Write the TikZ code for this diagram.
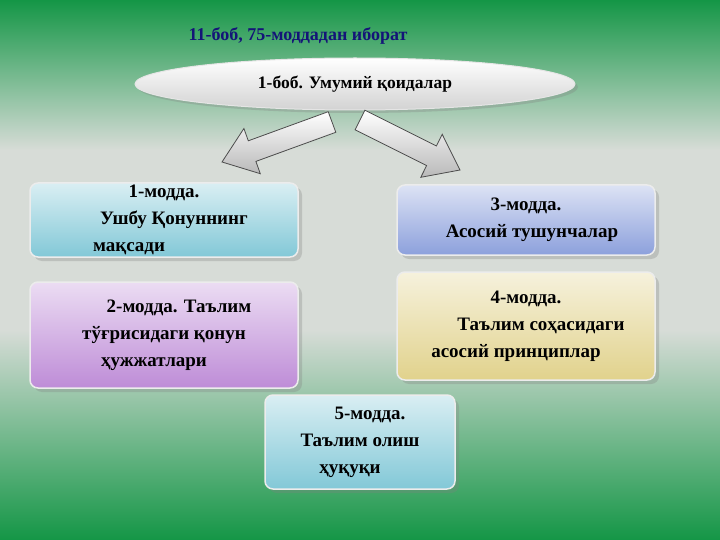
\documentclass[tikz,border=0pt]{standalone}
\usepackage{fontspec}
\setmainfont{Liberation Serif}
\usetikzlibrary{shapes,positioning,shadows}
\definecolor{bggreen}{RGB}{20,150,70}
\definecolor{bggray}{RGB}{215,220,215}
\definecolor{titleblue}{RGB}{20,20,120}
\definecolor{cyanbox}{RGB}{130,200,215}
\definecolor{bluebox}{RGB}{140,160,220}
\definecolor{lilacbox}{RGB}{190,140,215}
\definecolor{sandbox}{RGB}{225,210,140}
\begin{document}
\begin{tikzpicture}[x=1pt,y=-1pt,
    card/.style={rectangle, rounded corners=8pt, draw=white!85!gray, line width=1.5pt,
                 font=\bfseries\fontsize{19}{27}\selectfont, align=center, inner sep=0pt,
                 drop shadow={shadow xshift=4pt, shadow yshift=-4pt, opacity=0.3}},
    pointer/.style={draw=gray!60!black, line width=0.8pt, top color=white, bottom color=gray!55}
  ]
    \useasboundingbox (0,0) rectangle (720,540);
    \shade[top color=bggreen, bottom color=bggray] (0,0) rectangle (720,150);
    \fill[bggray] (0,150) rectangle (720,330);
    \shade[top color=bggray, bottom color=bggreen] (0,330) rectangle (720,540);

    \node[font=\bfseries\fontsize{18}{20}\selectfont, text=titleblue] (title) at (298,36) {11-боб, 75-моддадан иборат};
    \node[ellipse, draw=white!80!gray, line width=1pt, top color=white, bottom color=gray!35,
          minimum width=440pt, minimum height=52pt, font=\bfseries\fontsize{17.5}{20}\selectfont,
          drop shadow={shadow xshift=3pt, shadow yshift=-3pt, opacity=0.3}] (chapter) at (355,84) {1-боб. Умумий қоидалар};

    % block arrows
    \path[pointer] (335.8,132.3) -- (255.9,161.4) -- (260.3,173.7) -- (222,162) -- (243.9,128.5)
      -- (248.3,140.8) -- (328.2,111.7) -- cycle;
    \path[pointer] (355.1,129.8) -- (426.6,165.6) -- (420.8,177.3) -- (460,170) -- (442.2,134.3)
      -- (436.4,146.0) -- (364.9,110.2) -- cycle;

    \node[card, top color=white!70!cyanbox, bottom color=cyanbox, minimum width=268pt, minimum height=74pt] (art1) at (164,220)
      {1-модда.\\\hspace*{20pt}Ушбу Қонуннинг\\мақсади\hspace*{70pt}};
    \node[card, top color=white!70!bluebox, bottom color=bluebox, minimum width=258pt, minimum height=70pt] (art3) at (526,220)
      {3-модда.\\\hspace*{12pt}Асосий тушунчалар};
    \node[card, top color=white!70!lilacbox, bottom color=lilacbox, minimum width=268pt, minimum height=106pt] (art2) at (164,335)
      {\hspace*{30pt}2-модда. Таълим\\тўғрисидаги қонун\\ҳужжатлари\hspace*{20pt}};
    \node[card, top color=white!70!sandbox, bottom color=sandbox, minimum width=258pt, minimum height=108pt] (art4) at (526,326)
      {4-модда.\\\hspace*{30pt}Таълим соҳасидаги\\асосий принциплар\hspace*{20pt}};
    \node[card, top color=white!70!cyanbox, bottom color=cyanbox, minimum width=190pt, minimum height=94pt] (art5) at (360,442)
      {\hspace*{20pt}5-модда.\\Таълим олиш\\ҳуқуқи\hspace*{20pt}};
\end{tikzpicture}
\end{document}
